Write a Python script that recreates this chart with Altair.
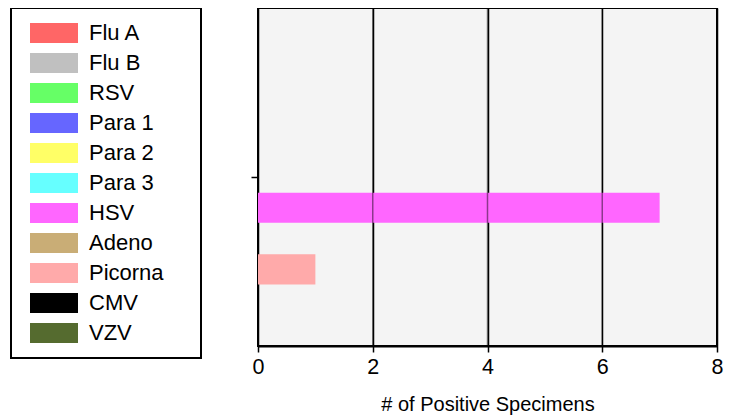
import altair as alt
import pandas as pd

series = ["Flu A", "Flu B", "RSV", "Para 1", "Para 2", "Para 3",
          "HSV", "Adeno", "Picorna", "CMV", "VZV"]
counts = [0, 0, 0, 0, 0, 0, 7, 0, 1, 0, 0]
colors = ["#ff6666", "#c0c0c0", "#66ff66", "#6666ff", "#ffff66", "#66ffff",
          "#ff66ff", "#c9ad76", "#ffaaaa", "#000000", "#556b2f"]
group_label = " "
x_domain = [0, 8]
x_ticks = [0, 2, 4, 6, 8]
grid_overlay = [2, 4, 6]
x_title = "# of Positive Specimens"

FONT = "Liberation Sans"
# swatch 48x20 px, plus an empty sub-path that widens the legend box to the right
SWATCH = "M-2.4,-1H2.4V1H-2.4ZM13.3,0h0"

df = pd.DataFrame({"group": [group_label] * len(series), "series": series, "count": counts})
grid_df = pd.DataFrame({"v": grid_overlay})

bars = alt.Chart(df).mark_bar().encode(
    x=alt.X("count:Q", scale=alt.Scale(domain=x_domain, nice=False),
            axis=alt.Axis(values=x_ticks, title=x_title, format="d")),
    y=alt.Y("group:N", scale=alt.Scale(paddingInner=0, paddingOuter=0),
            axis=alt.Axis(labels=False, title=None)),
    yOffset=alt.YOffset("series:N", sort=series,
                        scale=alt.Scale(domain=series, paddingInner=0.02, paddingOuter=0)),
    color=alt.Color("series:N", sort=series,
                    scale=alt.Scale(domain=series, range=colors),
                    legend=alt.Legend(title=None, orient="none", legendX=-247, legendY=0,
                                      fillColor="white", strokeColor="black", padding=14,
                                      symbolType=SWATCH, symbolSize=400,
                                      symbolOffset=18,
                                      symbolStrokeWidth=0, symbolOpacity=1,
                                      labelFont=FONT, labelFontSize=22, labelColor="black",
                                      labelOffset=24, rowPadding=8)),
)

rules = alt.Chart(grid_df).mark_rule(color="black", opacity=0.45, strokeWidth=1.5).encode(
    x=alt.X("v:Q", title=x_title)
)

chart = alt.layer(bars, rules).properties(
    width=459, height=338,
    autosize=alt.AutoSizeParams(type="none"),
    padding={"left": 250, "top": 0, "right": 10, "bottom": 75},
).configure_view(
    stroke="black", strokeWidth=2, fill="#f4f4f4"
).configure_legend(strokeWidth=2).configure_axisX(
    grid=True, gridColor="black", gridWidth=1.5, tickColor="black", tickWidth=1.5,
    tickSize=6, domainColor="black", domainWidth=2, labelFont=FONT, labelFontSize=21.5,
    labelColor="black", labelPadding=4, labelFlush=False, titleFont=FONT,
    titleFontSize=20, titleFontWeight="normal", titleColor="black", titlePadding=17
).configure_axisY(
    ticks=True, tickColor="black", tickSize=7, tickWidth=1.5, domain=False, grid=False
)

chart.save("out.html", embed_options={"renderer": "svg", "actions": False})
